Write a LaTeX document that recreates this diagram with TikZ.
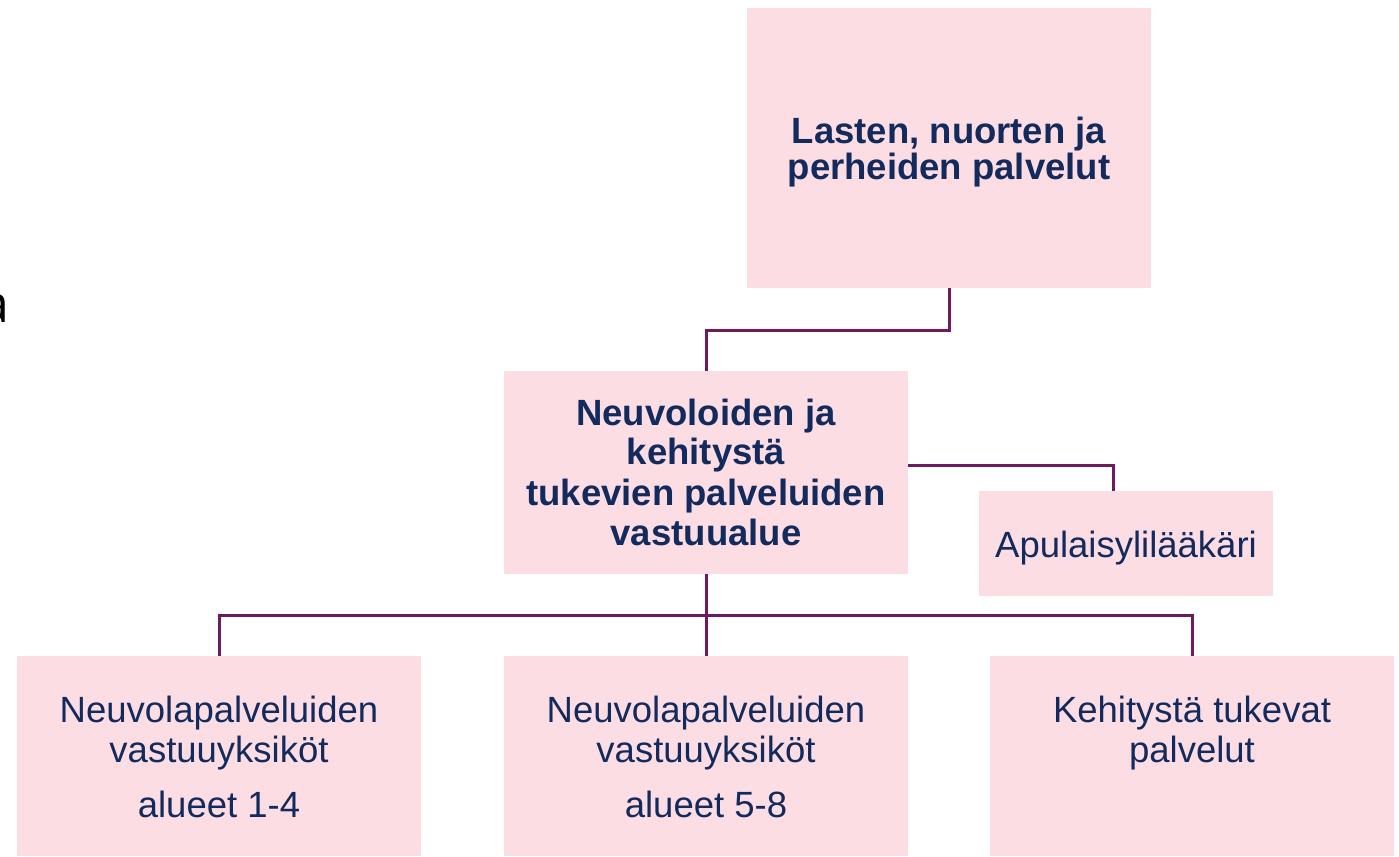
\documentclass[tikz,border=0pt]{standalone}
\usepackage{fontspec}
\setmainfont{Liberation Sans}
\newfontfamily\cutfont{Open Sans}
\definecolor{boxpink}{RGB}{253,221,228}
\definecolor{navytext}{RGB}{19,42,92}
\definecolor{linepurple}{RGB}{110,26,98}
\begin{document}
\begin{tikzpicture}[x=1pt,y=-1pt,
  box/.style={fill=boxpink,draw=none,inner sep=0pt,anchor=north west},
  txt/.style={text=navytext,align=center,anchor=base,inner sep=0pt,font=\fontsize{36.5}{40}\selectfont},
  btxt/.style={txt,font=\fontsize{36.5}{40}\selectfont\bfseries},
  conn/.style={draw=linepurple,line width=3pt}]
\useasboundingbox (0,0) rectangle (1399,856);
% boxes
\node[box,minimum width=404pt,minimum height=280pt] (top) at (747,8) {};
\node[box,minimum width=404pt,minimum height=203pt] (mid) at (504,371) {};
\node[box,minimum width=294pt,minimum height=105pt] (apu) at (979,491) {};
\node[box,minimum width=404pt,minimum height=200pt] (b1) at (17,656) {};
\node[box,minimum width=404pt,minimum height=200pt] (b2) at (504,656) {};
\node[box,minimum width=404pt,minimum height=200pt] (b3) at (990,656) {};
% texts
\node[btxt] (t1) at (949,143) {Lasten, nuorten ja};
\node[btxt] (t2) at (949,179) {perheiden palvelut};
\node[btxt] (m1) at (706,425) {Neuvoloiden ja};
\node[btxt] (m2) at (706,464) {kehitystä};
\node[btxt] (m3) at (706,505) {tukevien palveluiden};
\node[btxt] (m4) at (706,545) {vastuualue};
\node[txt] (aputxt) at (1126,557) {Apulaisylilääkäri};
\node[txt] (b1a) at (219,722) {Neuvolapalveluiden};
\node[txt] (b1b) at (219,762) {vastuuyksiköt};
\node[txt] (b1c) at (219,817) {alueet 1-4};
\node[txt] (b2a) at (706,722) {Neuvolapalveluiden};
\node[txt] (b2b) at (706,762) {vastuuyksiköt};
\node[txt] (b2c) at (706,817) {alueet 5-8};
\node[txt] (b3a) at (1192,722) {Kehitystä tukevat};
\node[txt] (b3b) at (1192,762) {palvelut};
\node[anchor=base east,font=\cutfont\fontsize{52}{56}\selectfont,inner sep=0pt] (cut) at (10,322) {a};
% connectors
\draw[conn] (top.south) -- ++(0,42) -| (mid.north);
\draw[conn] ([yshift=7.5pt]mid.east) -| ([xshift=-13pt]apu.north);
\draw[conn] (mid.south) -- (b2.north);
\draw[conn] (b1.north) -- ++(0,-41) -| (b3.north);
\end{tikzpicture}
\end{document}
